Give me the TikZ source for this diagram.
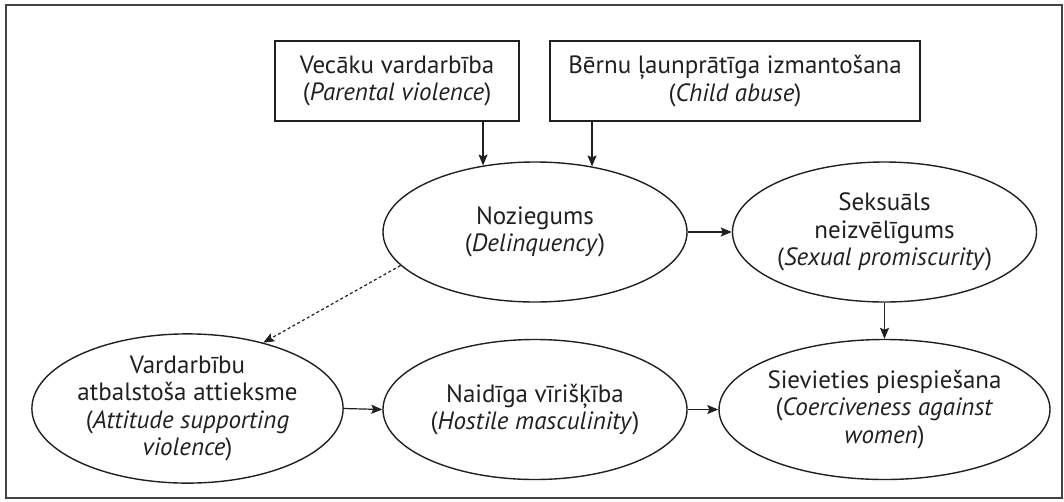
\documentclass[tikz,border=0pt]{standalone}
\usepackage{fontspec}
\setmainfont{PT Sans}
\usetikzlibrary{shapes.geometric,arrows.meta}
\definecolor{ink}{HTML}{231F20}
\begin{document}
\begin{tikzpicture}[x=1pt,y=-1pt,
  every node/.style={text=ink,font=\fontsize{25}{27.5}\selectfont,align=center},
  boxnode/.style={draw=ink,line width=1.4pt,rectangle,inner sep=0pt},
  ellnode/.style={draw=ink,line width=1.4pt,ellipse,inner sep=0pt,minimum width=304pt,minimum height=140pt},
  arr/.style={draw=ink,line width=1.2pt,-{Stealth[length=11pt,width=9pt,inset=2pt]}},
  dotarr/.style={arr,dash pattern=on 3pt off 2.5pt}]
\useasboundingbox (0,0) rectangle (1064,501);
\draw[draw=ink!85,line width=1.6pt] (6,5) rectangle (1062,498);
\node[boxnode,minimum width=244pt,minimum height=80pt] (b1) at (397,81)
  {Vecāku vardarbība\\(\textit{Parental violence})};
\node[boxnode,minimum width=370pt,minimum height=80pt] (b2) at (735,81)
  {Bērnu ļaunprātīga izmantošana\\(\textit{Child abuse})};
\node[ellnode] (noz) at (535,232) {Noziegums\\(\textit{Delinquency})};
\node[ellnode] (seks) at (884.5,232) {Seksuāls\\neizvēlīgums\\(\textit{Sexual promiscurity})};
\node[ellnode] (var) at (187.5,408.5) {Vardarbību\\atbalstoša attieksme\\(\textit{Attitude supporting}\\\textit{violence})};
\node[ellnode] (naid) at (535,409.5) {Naidīga vīrišķība\\(\textit{Hostile masculinity})};
\node[ellnode] (siev) at (884.5,409.5) {Sievieties piespiešana\\(\textit{Coerciveness against}\\\textit{women})};
\draw[arr] (b1.south -| noz.128) -- (noz.128);
\draw[arr] (b2.south -| noz.49.3) -- (noz.49.3);
\draw[arr] (noz.east) -- (seks.west);
\draw[arr] (seks.south) -- (siev.north);
\draw[arr] (var.east) -- (naid.west);
\draw[arr] (naid.east) -- (siev.west);
\draw[dotarr] (noz.194.9) -- (var.41.5);
\end{tikzpicture}
\end{document}
